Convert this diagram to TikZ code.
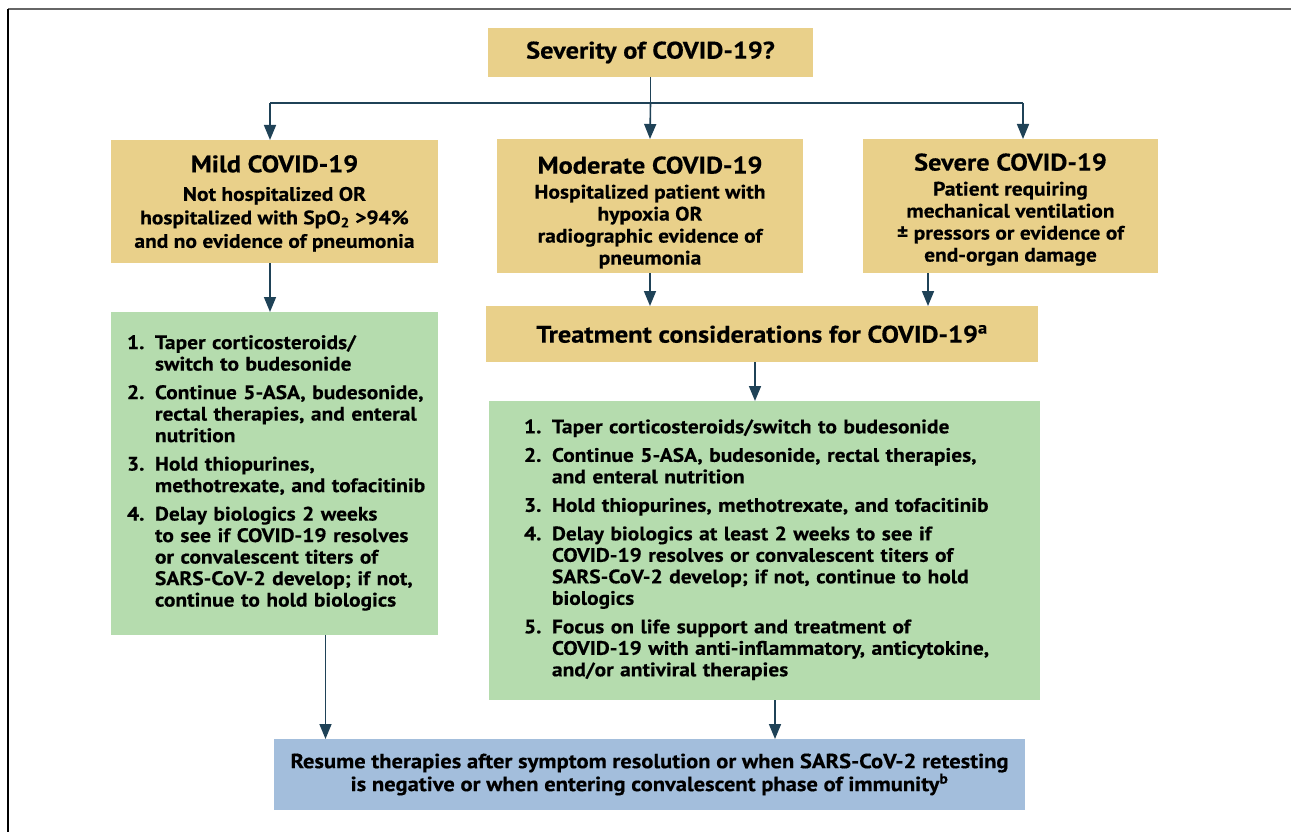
\documentclass[tikz,border=0pt]{standalone}
\usepackage{fontspec}
\setmainfont{PT Sans}[FakeStretch=1.1, BoldFeatures={FakeBold=0.4}]
\usetikzlibrary{arrows.meta}
\definecolor{tanc}{HTML}{E9D08A}
\definecolor{grnc}{HTML}{B5DCAE}
\definecolor{bluc}{HTML}{A3BEDC}
\definecolor{arrc}{HTML}{1F4257}
\tikzset{
  box/.style={anchor=north west, inner sep=0pt, outer sep=0pt},
  tanbox/.style={box, fill=tanc, align=center},
  grnbox/.style={box, fill=grnc, align=left},
  blubox/.style={box, fill=bluc, align=center},
  conn/.style={draw=arrc, line width=1.6pt, -{Triangle[length=15pt,width=12pt]}},
  lnk/.style={draw=arrc, line width=1.6pt},
  bigf/.style={font=\fontsize{24}{27}\selectfont\bfseries},
  bdyf/.style={font=\fontsize{19.5}{22}\selectfont\bfseries},
  lstf/.style={font=\fontsize{19.5}{21.5}\selectfont\bfseries}
}
\newcommand{\Ttl}[1]{{\fontsize{24}{27}\selectfont #1}}
\begin{document}
\begin{tikzpicture}[x=1pt,y=-1pt]
\useasboundingbox (0,0) rectangle (1291,832);
\draw[black!60, line width=1.5pt] (8,9) -- (1291,9);
\draw[black, line width=1.2pt] (8,9) -- (8,832);

\node[tanbox, bigf, minimum width=325, minimum height=49] (sev) at (488,28) {Severity of COVID-19?};

\node[tanbox, font=\fontsize{19.5}{23.5}\selectfont\bfseries, minimum width=327, minimum height=123] (mild) at (111,140)
  {\Ttl{Mild COVID-19}\\[5pt] Not hospitalized OR\\ hospitalized with SpO\textsubscript{2} >94\%\\ and no evidence of pneumonia\\[-23.5pt]};

\node[tanbox, bdyf, minimum width=306, minimum height=134] (mod) at (497,139)
  {\Ttl{Moderate COVID-19}\\[3pt] Hospitalized patient with\\ hypoxia OR\\ radiographic evidence of\\ pneumonia\\[-31pt]};

\node[tanbox, bdyf, minimum width=295, minimum height=134] (sevr) at (863,139)
  {\Ttl{Severe COVID-19}\\[3pt] Patient requiring\\ mechanical ventilation\\ \textpm{} pressors or evidence of\\ end-organ damage\\[-25pt]};

\node[tanbox, bigf, minimum width=552, minimum height=56] (treat) at (486,306)
  {Treatment considerations for COVID-19\textsuperscript{a}};

\node[grnbox, lstf, minimum height=323, text width=295, inner xsep=16] (gl) at (111,312)
  {\begin{tabular}{@{}p{28pt}@{}l@{}}
   1. & Taper corticosteroids/\\
      & switch to budesonide\\[7pt]
   2. & Continue 5-ASA, budesonide,\\
      & rectal therapies, and enteral\\
      & nutrition\\[7pt]
   3. & Hold thiopurines,\\
      & methotrexate, and tofacitinib\\[7pt]
   4. & Delay biologics 2 weeks\\
      & to see if COVID-19 resolves\\
      & or convalescent titers of\\
      & SARS-CoV-2 develop; if not,\\
      & continue to hold biologics
   \end{tabular}};

\node[grnbox, lstf, minimum height=299, text width=481, inner xsep=35] (gr) at (489,401)
  {\begin{tabular}{@{}p{28pt}@{}l@{}}
   1. & Taper corticosteroids/switch to budesonide\\[7pt]
   2. & Continue 5-ASA, budesonide, rectal therapies,\\
      & and enteral nutrition\\[7pt]
   3. & Hold thiopurines, methotrexate, and tofacitinib\\[7pt]
   4. & Delay biologics at least 2 weeks to see if\\
      & COVID-19 resolves or convalescent titers of\\
      & SARS-CoV-2 develop; if not, continue to hold\\
      & biologics\\[7pt]
   5. & Focus on life support and treatment of\\
      & COVID-19 with anti-inflammatory, anticytokine,\\
      & and/or antiviral therapies
   \end{tabular}};

\node[blubox, font=\fontsize{20.5}{21.5}\selectfont\bfseries, minimum width=751, minimum height=71] (res) at (274,739)
  {Resume therapies after symptom resolution or when SARS-CoV-2 retesting\\ is negative or when entering convalescent phase of immunity\textsuperscript{b}};

% connectors
\coordinate (j) at ([yshift=-26]sev.south);
\coordinate (jl) at ([xshift=-4.5]mild.north |- j);
\coordinate (jr) at ([xshift=12.5]sevr.north |- j);
\draw[lnk] (sev.south) -- (j);
\draw[lnk] (jl) -- (jr);
\draw[conn] (j) -- (mod.north);
\draw[conn] (jl) -- ([xshift=-4.5]mild.north);
\draw[conn] (jr) -- ([xshift=12.5]sevr.north);
\draw[conn] ([xshift=-4.5]mild.south) -- ([xshift=-4.5]mild.south |- gl.north);
\draw[conn] (mod.south) -- (mod.south |- treat.north);
\draw[conn] ([xshift=-82.5]sevr.south) -- ([xshift=-82.5]sevr.south |- treat.north);
\draw[conn] ([xshift=-7]treat.south) -- ([xshift=-7]treat.south |- gr.north);
\draw[conn] ([xshift=51]gl.south) -- ([xshift=51]gl.south |- res.north);
\draw[conn] ([xshift=10.5]gr.south) -- ([xshift=10.5]gr.south |- res.north);
\end{tikzpicture}
\end{document}
